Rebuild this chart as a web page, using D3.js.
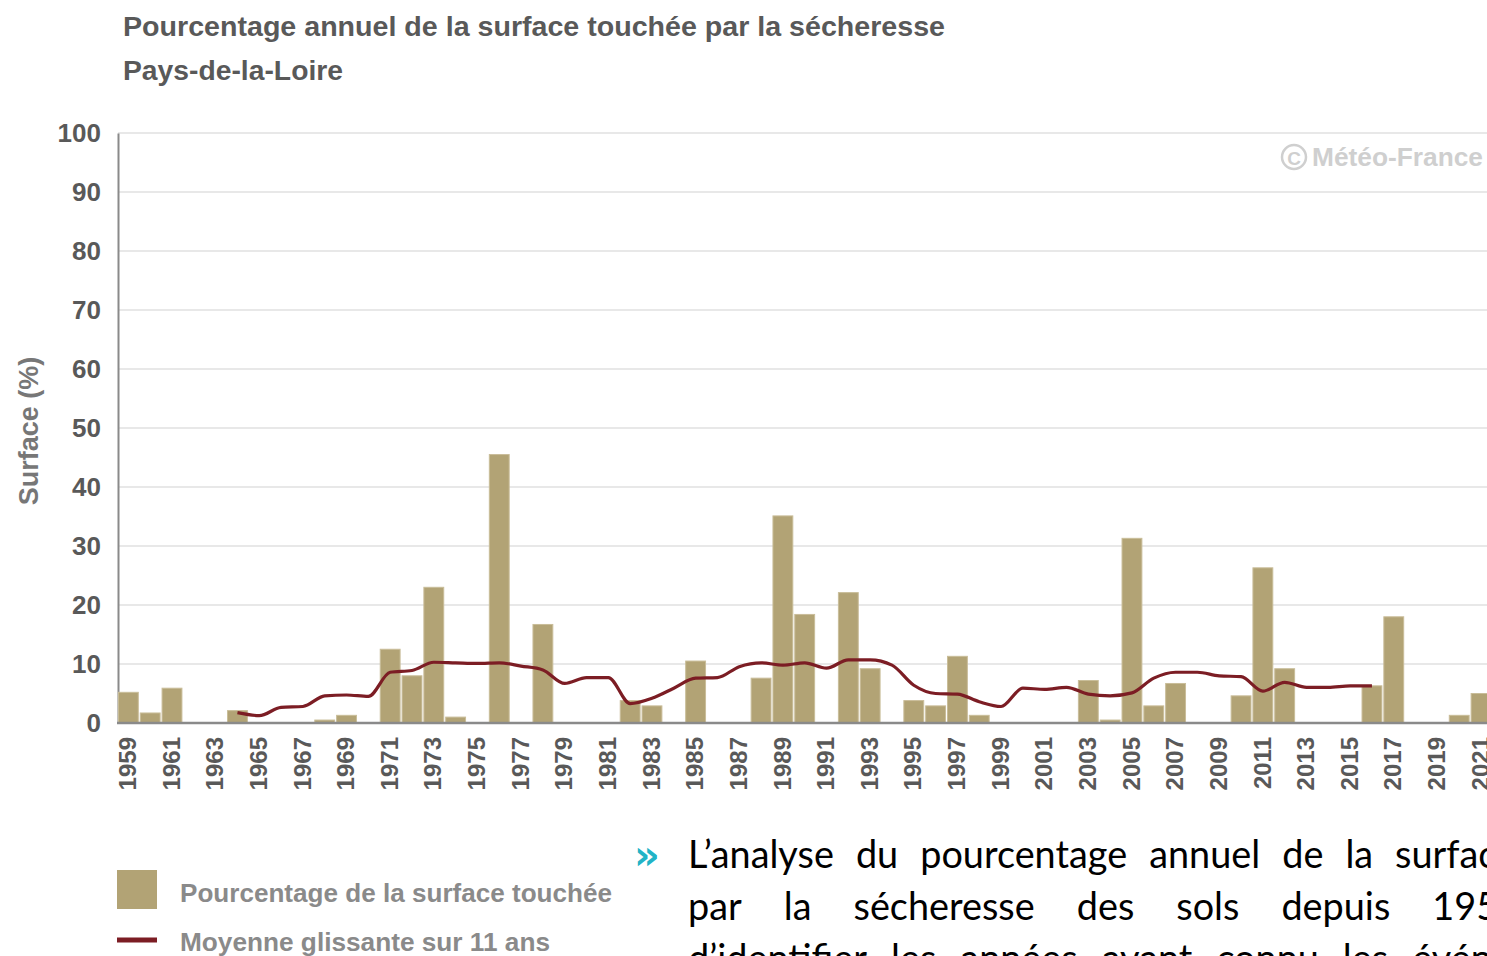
<!DOCTYPE html>
<html lang="fr">
<head>
<meta charset="utf-8">
<script src="https://cdn.jsdelivr.net/npm/d3@7"></script>
<style>
  html, body { margin: 0; padding: 0; background: #fff; overflow: hidden; }
  svg { display: block; }
</style>
</head>
<body>
<svg id="chart" width="1487" height="956"></svg>
<script>
// Années couvertes par la série
const years = [
  1959, 1960, 1961, 1962, 1963, 1964, 1965, 1966, 1967, 1968,
  1969, 1970, 1971, 1972, 1973, 1974, 1975, 1976, 1977, 1978,
  1979, 1980, 1981, 1982, 1983, 1984, 1985, 1986, 1987, 1988,
  1989, 1990, 1991, 1992, 1993, 1994, 1995, 1996, 1997, 1998,
  1999, 2000, 2001, 2002, 2003, 2004, 2005, 2006, 2007, 2008,
  2009, 2010, 2011, 2012, 2013, 2014, 2015, 2016, 2017, 2018,
  2019, 2020, 2021
];

// Pourcentage annuel de la surface touchée (%)
const surface = [
  5.2, 1.7, 5.9, 0, 0, 2.1, 0, 0, 0, 0.5,
  1.3, 0, 12.5, 8.0, 23.0, 1.0, 0, 45.5, 0, 16.7,
  0, 0, 0, 3.8, 2.9, 0, 10.5, 0, 0, 7.6,
  35.1, 18.4, 0, 22.1, 9.2, 0, 3.8, 2.9, 11.3, 1.3,
  0, 0, 0, 0, 7.2, 0.5, 31.3, 2.9, 6.7, 0,
  0, 4.6, 26.3, 9.2, 0, 0, 0, 6.3, 18.0, 0,
  0, 1.3, 5.0
];

// Moyenne glissante sur 11 ans (années centrales 1964 à 2016)
const avgYears = [
  1964, 1965, 1966, 1967, 1968, 1969, 1970, 1971, 1972, 1973,
  1974, 1975, 1976, 1977, 1978, 1979, 1980, 1981, 1982, 1983,
  1984, 1985, 1986, 1987, 1988, 1989, 1990, 1991, 1992, 1993,
  1994, 1995, 1996, 1997, 1998, 1999, 2000, 2001, 2002, 2003,
  2004, 2005, 2006, 2007, 2008, 2009, 2010, 2011, 2012, 2013,
  2014, 2015, 2016
];
const movingAvg = [
  1.75, 1.25, 2.65, 2.8, 4.6, 4.75, 4.5, 8.6, 8.9, 10.3,
  10.2, 10.1, 10.2, 9.65, 9.0, 6.7, 7.7, 7.7, 3.3, 4.2,
  5.9, 7.6, 7.7, 9.55, 10.2, 9.8, 10.2, 9.3, 10.7, 10.7,
  9.8, 6.4, 5.0, 4.9, 3.6, 2.8, 5.9, 5.7, 6.05, 4.9,
  4.6, 5.1, 7.6, 8.6, 8.6, 8.0, 7.85, 5.4, 6.9, 6.05,
  6.05, 6.3, 6.3
];

// Graduations
const yTicks = [0, 10, 20, 30, 40, 50, 60, 70, 80, 90, 100];
const xTickYears = years.filter((y, i) => i % 2 === 0);

// Textes
const titleText = "Pourcentage annuel de la surface touchée par la sécheresse";
const subtitleText = "Pays-de-la-Loire";
const yAxisTitle = "Surface (%)";
const legendLabels = ["Pourcentage de la surface touchée", "Moyenne glissante sur 11 ans"];
const creditText = "Météo-France";
const paragraphLines = [
  "L’analyse du pourcentage annuel de la surface touchée",
  "par la sécheresse des sols depuis 1959 permet",
  "d’identifier les années ayant connu les événements"
];

const barColor = "#b2a375";
const lineColor = "#7c1d24";
const axisColor = "#8a8a8a";
const gridColor = "#e8e8e8";
const labelColor = "#595959";

const svg = d3.select("#chart");

const plot = { left: 118, top: 133, bottom: 723, step: 21.8 };

const x = d3.scaleBand()
  .domain(years)
  .range([plot.left, plot.left + plot.step * years.length])
  .paddingInner(0.09)
  .paddingOuter(0.02);

const y = d3.scaleLinear()
  .domain([0, 100])
  .range([plot.bottom, plot.top]);

// Titre et sous-titre
svg.append("text")
  .attr("x", 123).attr("y", 36)
  .attr("font-family", "Liberation Sans, Arial, sans-serif")
  .attr("font-weight", "bold").attr("font-size", 27)
  .attr("fill", labelColor)
  .attr("textLength", 822).attr("lengthAdjust", "spacingAndGlyphs")
  .text(titleText);

svg.append("text")
  .attr("x", 123).attr("y", 80)
  .attr("font-family", "Liberation Sans, Arial, sans-serif")
  .attr("font-weight", "bold").attr("font-size", 27)
  .attr("fill", labelColor)
  .attr("textLength", 220).attr("lengthAdjust", "spacingAndGlyphs")
  .text(subtitleText);

// Grille horizontale
svg.append("g")
  .selectAll("line")
  .data(yTicks.filter(d => d > 0))
  .join("line")
  .attr("x1", plot.left).attr("x2", 1487)
  .attr("y1", d => y(d)).attr("y2", d => y(d))
  .attr("stroke", gridColor).attr("stroke-width", 2);

// Axe des ordonnées
const yAxis = svg.append("g")
  .attr("transform", `translate(${plot.left},0)`)
  .call(d3.axisLeft(y).tickValues(yTicks).tickSize(0).tickPadding(17));
yAxis.select(".domain").attr("stroke", axisColor).attr("stroke-width", 2);
yAxis.selectAll("text")
  .attr("font-family", "Liberation Sans, Arial, sans-serif")
  .attr("font-weight", "bold").attr("font-size", 26)
  .attr("fill", labelColor);

svg.append("text")
  .attr("transform", `translate(38,431) rotate(-90)`)
  .attr("text-anchor", "middle")
  .attr("font-family", "Liberation Sans, Arial, sans-serif")
  .attr("font-weight", "bold").attr("font-size", 27)
  .attr("fill", "#777")
  .text(yAxisTitle);

// Filigrane
const credit = svg.append("g").attr("fill", "#cfcfcf").attr("stroke", "#cfcfcf");
credit.append("circle")
  .attr("cx", 1294).attr("cy", 157).attr("r", 12)
  .attr("fill", "none").attr("stroke-width", 2.5);
credit.append("text")
  .attr("x", 1294).attr("y", 165)
  .attr("text-anchor", "middle")
  .attr("stroke", "none")
  .attr("font-family", "Liberation Sans, Arial, sans-serif")
  .attr("font-weight", "bold").attr("font-size", 19)
  .text("C");
credit.append("text")
  .attr("x", 1312).attr("y", 166)
  .attr("stroke", "none")
  .attr("font-family", "Liberation Sans, Arial, sans-serif")
  .attr("font-weight", "bold").attr("font-size", 25)
  .attr("textLength", 171).attr("lengthAdjust", "spacingAndGlyphs")
  .text(creditText);

// Barres
svg.append("g")
  .selectAll("rect")
  .data(years.map((yr, i) => ({ year: yr, value: surface[i] })).filter(d => d.value > 0))
  .join("rect")
  .attr("x", d => x(d.year))
  .attr("width", x.bandwidth())
  .attr("y", d => y(d.value))
  .attr("height", d => y(0) - y(d.value))
  .attr("fill", barColor)
  .attr("stroke", "#c9bd99").attr("stroke-width", 1);

// Axe des abscisses
const xAxis = svg.append("g")
  .attr("transform", `translate(0,${plot.bottom})`)
  .call(d3.axisBottom(x).tickValues(xTickYears).tickSize(0).tickPadding(0));
xAxis.select(".domain").remove();
svg.append("line")
  .attr("x1", plot.left - 1).attr("x2", 1487)
  .attr("y1", plot.bottom).attr("y2", plot.bottom)
  .attr("stroke", axisColor).attr("stroke-width", 2.5);
xAxis.selectAll("text")
  .attr("font-family", "Liberation Sans, Arial, sans-serif")
  .attr("font-weight", "bold").attr("font-size", 24)
  .attr("fill", labelColor)
  .attr("text-anchor", "end")
  .attr("dy", "0.36em")
  .attr("transform", "translate(-1,14) rotate(-90)")
  .attr("y", 0).attr("x", 0);

// Moyenne glissante
const line = d3.line()
  .x(d => x(d.year) + x.bandwidth() / 2)
  .y(d => y(d.value))
  .curve(d3.curveMonotoneX);

svg.append("path")
  .datum(avgYears.map((yr, i) => ({ year: yr, value: movingAvg[i] })))
  .attr("d", line)
  .attr("fill", "none")
  .attr("stroke", lineColor)
  .attr("stroke-width", 3.2)
  .attr("stroke-linejoin", "round");

// Légende
svg.append("rect")
  .attr("x", 117).attr("y", 870).attr("width", 40).attr("height", 39)
  .attr("fill", barColor);
svg.append("line")
  .attr("x1", 117).attr("x2", 157).attr("y1", 940).attr("y2", 940)
  .attr("stroke", lineColor).attr("stroke-width", 5);
const legendWidths = [432, 370];
svg.append("g")
  .selectAll("text")
  .data(legendLabels)
  .join("text")
  .attr("x", 180)
  .attr("y", (d, i) => 902 + i * 49)
  .attr("font-family", "Liberation Sans, Arial, sans-serif")
  .attr("font-weight", "bold").attr("font-size", 26)
  .attr("fill", "#8a8a8a")
  .attr("textLength", (d, i) => legendWidths[i])
  .attr("lengthAdjust", "spacingAndGlyphs")
  .text(d => d);

// Paragraphe justifié
svg.append("text")
  .attr("x", 634).attr("y", 869)
  .attr("font-family", "DejaVu Sans, sans-serif")
  .attr("font-weight", "bold").attr("font-size", 40)
  .attr("fill", "#22b3c6")
  .text("»");

const paraFont = { family: "Lato, 'Noto Sans', sans-serif", size: 39, squeeze: 0.97 };
const lineGaps = [22, 42, 24];
const para = svg.append("g")
  .attr("font-family", paraFont.family)
  .attr("font-size", paraFont.size)
  .attr("fill", "#000");

paragraphLines.forEach((txt, li) => {
  let cx = 688;
  const baseline = 868 + li * 52;
  txt.split(" ").forEach(word => {
    const t = para.append("text")
      .attr("y", baseline)
      .text(word);
    const w = t.node().getComputedTextLength() * paraFont.squeeze;
    t.attr("transform", `translate(${cx},0) scale(${paraFont.squeeze},1)`);
    cx += w + lineGaps[li];
  });
});
</script>
</body>
</html>
